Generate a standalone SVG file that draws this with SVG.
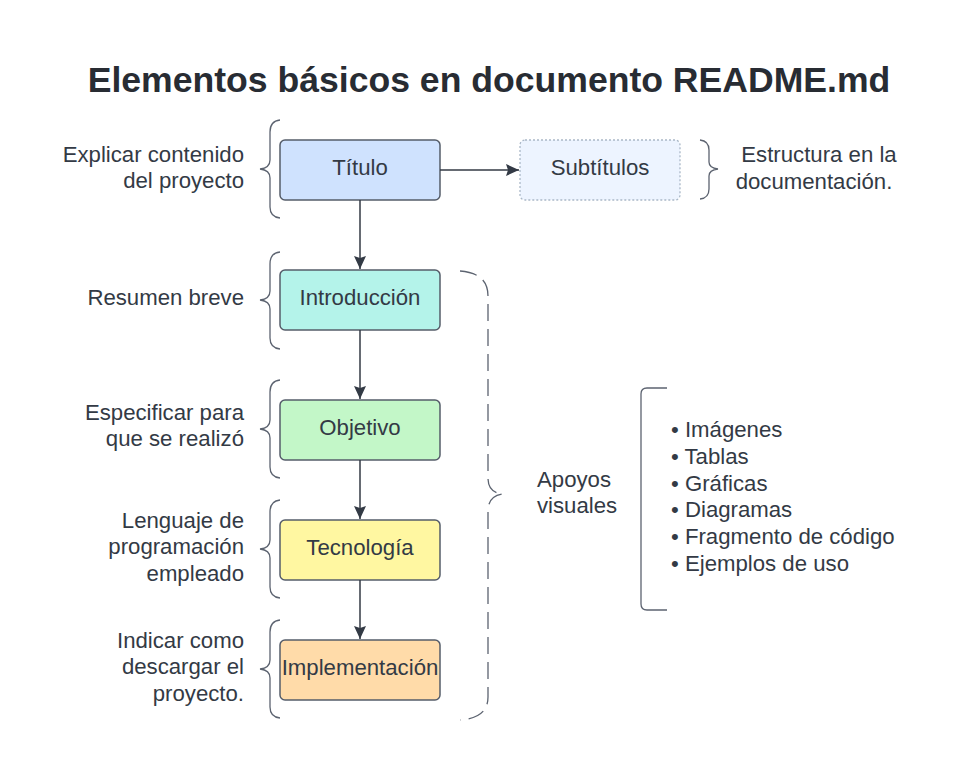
<svg xmlns="http://www.w3.org/2000/svg" width="960" height="760" viewBox="0 0 960 760">
<defs>
<marker id="ah" markerWidth="14" markerHeight="14" refX="13" refY="6" orient="auto" markerUnits="userSpaceOnUse">
<path d="M0,0 L13,6 L0,12 L2,6 Z" fill="#333a45"/>
</marker>
<style>
text{font-family:"Liberation Sans",Arial,sans-serif;fill:#333a45;font-size:22.2px}
.title{font-size:35.6px;font-weight:bold;fill:#282c33}
.box{stroke:#555d6a;stroke-width:1.5}
.c{text-anchor:middle}
.r{text-anchor:end}
.brace{fill:none;stroke:#5c6370;stroke-width:1.3}
.conn{fill:none;stroke:#333a45;stroke-width:1.5}
</style>
</defs>
<rect width="960" height="760" fill="#ffffff"/>
<text class="title c" x="489" y="92">Elementos básicos en documento README.md</text>

<g id="titulo">
<rect class="box" x="280" y="140" width="160" height="60" rx="5" fill="#cfe2fe"/>
<text class="c" x="360" y="175">Título</text>
</g>
<g id="subtitulos">
<rect x="520" y="140" width="160" height="60" rx="5" fill="#edf4ff" stroke="#aab8c8" stroke-width="1.3" stroke-dasharray="2,2"/>
<text class="c" x="600" y="175">Subtítulos</text>
</g>
<g id="introduccion">
<rect class="box" x="280" y="270" width="160" height="60" rx="5" fill="#b4f3ea"/>
<text class="c" x="360" y="305">Introducción</text>
</g>
<g id="objetivo">
<rect class="box" x="280" y="400" width="160" height="60" rx="5" fill="#c3f7c8"/>
<text class="c" x="360" y="435">Objetivo</text>
</g>
<g id="tecnologia">
<rect class="box" x="280" y="520" width="160" height="60" rx="5" fill="#fff7a1"/>
<text class="c" x="360" y="555">Tecnología</text>
</g>
<g id="implementacion">
<rect class="box" x="280" y="640" width="160" height="60" rx="5" fill="#ffdba9"/>
<text class="c" x="360" y="675">Implementación</text>
</g>

<g id="connectors">
<path class="conn" d="M440,170 L519,170" marker-end="url(#ah)"/>
<path class="conn" d="M360,200 L360,269" marker-end="url(#ah)"/>
<path class="conn" d="M360,330 L360,399" marker-end="url(#ah)"/>
<path class="conn" d="M360,460 L360,519" marker-end="url(#ah)"/>
<path class="conn" d="M360,580 L360,639" marker-end="url(#ah)"/>
</g>

<g id="braces">
<path class="brace" d="M280,120 Q270,121 270,132 L270,160 Q270,168 260,169 Q270,170 270,178 L270,207 Q270,217 280,218"/>
<path class="brace" d="M280,252 Q270,253 270,264 L270,291 Q270,299 260,300 Q270,301 270,309 L270,338 Q270,348 280,349"/>
<path class="brace" d="M280,380 Q270,381 270,392 L270,420 Q270,428 260,429 Q270,430 270,438 L270,467 Q270,477 280,478"/>
<path class="brace" d="M280,500 Q270,501 270,512 L270,540 Q270,548 260,549 Q270,550 270,558 L270,587 Q270,597 280,598"/>
<path class="brace" d="M280,620 Q270,621 270,632 L270,660 Q270,668 260,669 Q270,670 270,678 L270,707 Q270,717 280,718"/>
<path class="brace" d="M700,140 Q709,141 709,150 L709,162 Q709,168 718,169 Q709,170 709,176 L709,189 Q709,198 700,199"/>
<path class="brace" stroke-dasharray="17,8" d="M460,271 Q488,273 488,296 L488,478 Q488,493 503,494 Q488,496 488,511 L488,697 Q488,718 460,720"/>
<path class="brace" d="M667,388 L647,388 Q641,388 641,394 L641,604 Q641,610 647,610 L667,610"/>
</g>

<g id="labels">
<text class="r" x="244" y="162">Explicar contenido</text>
<text class="r" x="244" y="188">del proyecto</text>
<text class="r" x="244" y="305">Resumen breve</text>
<text class="r" x="244" y="420">Especificar para</text>
<text class="r" x="244" y="446">que se realizó</text>
<text class="r" x="244" y="528">Lenguaje de</text>
<text class="r" x="244" y="554">programación</text>
<text class="r" x="244" y="581">empleado</text>
<text class="r" x="244" y="648">Indicar como</text>
<text class="r" x="244" y="674">descargar el</text>
<text class="r" x="244" y="701">proyecto.</text>
<text class="c" x="819" y="162">Estructura en la</text>
<text class="c" x="814" y="189">documentación.</text>
<text x="537" y="487">Apoyos</text>
<text x="537" y="513">visuales</text>
</g>

<g id="lista">
<text x="671" y="437">• Imágenes</text>
<text x="671" y="464">• Tablas</text>
<text x="671" y="491">• Gráficas</text>
<text x="671" y="517">• Diagramas</text>
<text x="671" y="544">• Fragmento de código</text>
<text x="671" y="571">• Ejemplos de uso</text>
</g>
</svg>
